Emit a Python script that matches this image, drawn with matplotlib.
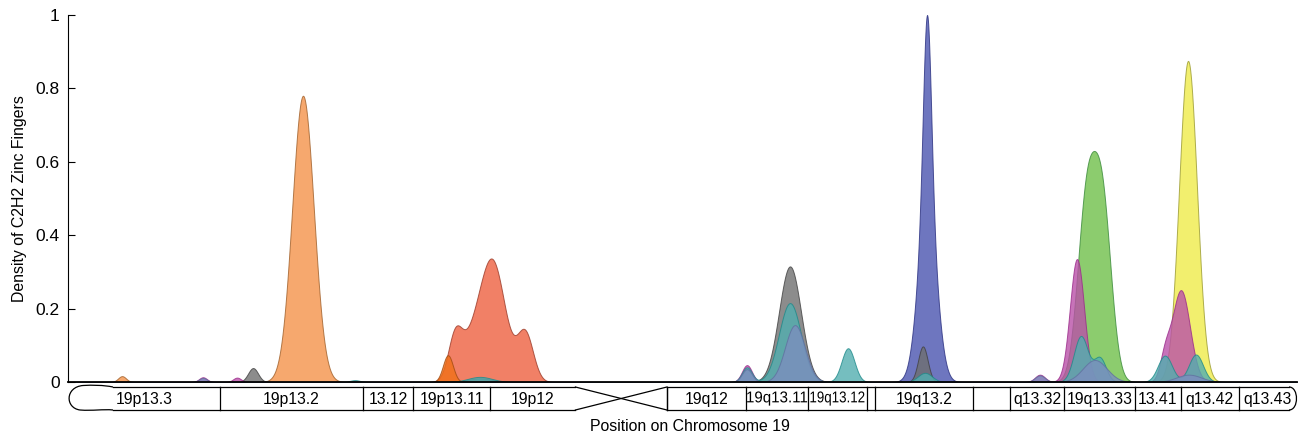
import matplotlib.pyplot as plt
import numpy as np
from matplotlib.path import Path
from matplotlib.patches import PathPatch
from matplotlib.textpath import TextPath
from matplotlib.font_manager import FontProperties
from matplotlib.transforms import Affine2D

plt.rcParams['font.family'] = ['Liberation Sans', 'DejaVu Sans']

# density peaks per zinc finger cluster family: (position Mb, height, width Mb)
blue_peaks = [(41.31, 0.50, 0.19), (41.31, 0.50, 0.43)]
salmon_peaks = [(20.39, 0.33, 0.625), (19.33, 0.07, 0.48), (18.61, 0.12, 0.34),
                (21.98, 0.13, 0.385)]
orange_peaks = [(2.60, 0.016, 0.19), (11.30, 0.78, 0.52)]
dark_orange_peaks = [(18.27, 0.073, 0.24)]
green_peaks = [(48.96, 0.47, 0.43), (49.73, 0.47, 0.43)]
yellow_peaks = [(53.86, 0.875, 0.43)]
gray_peaks = [(8.90, 0.038, 0.24), (19.81, 0.010, 0.55), (34.72, 0.315, 0.53),
              (41.11, 0.097, 0.23)]
pink_peaks = [(6.49, 0.013, 0.19), (8.13, 0.012, 0.19), (32.65, 0.046, 0.24),
              (46.74, 0.020, 0.24), (48.52, 0.335, 0.34), (53.52, 0.25, 0.43),
              (52.75, 0.06, 0.24)]
teal_peaks = [(13.80, 0.005, 0.24), (19.81, 0.014, 0.58), (32.65, 0.040, 0.24),
              (34.72, 0.215, 0.53), (37.51, 0.092, 0.31), (41.21, 0.025, 0.34),
              (48.71, 0.125, 0.34), (49.62, 0.065, 0.29), (52.75, 0.072, 0.34),
              (54.24, 0.075, 0.34)]
periwinkle_peaks = [(6.49, 0.011, 0.19), (32.65, 0.035, 0.24), (34.96, 0.155, 0.48),
                    (46.74, 0.018, 0.24), (49.38, 0.060, 0.58), (53.9, 0.02, 0.6)]

series = [
    (blue_peaks, '#4A54B0', '#2A3080'),
    (salmon_peaks, '#EE6040', '#9A3A28'),
    (orange_peaks, '#F4924A', '#A0602A'),
    (dark_orange_peaks, '#F07018', '#A04A10'),
    (green_peaks, '#6FC04A', '#3A8A3A'),
    (yellow_peaks, '#EFEC4A', '#9A9A30'),
    (gray_peaks, '#6F6F6F', '#404040'),
    (pink_peaks, '#BA50A8', '#9A2A8A'),
    (teal_peaks, '#52AEB0', '#1E8A8A'),
    (periwinkle_peaks, '#7C8EBE', '#6070A0'),
]

# chromosome 19 bands (label, start Mb, end Mb)
band_labels = ['19p13.3', '19p13.2', '13.12', '19p13.11', '19p12', '',
               '19q12', '19q13.11', '19q13.12', '', '19q13.2', '',
               'q13.32', '19q13.33', '13.41', 'q13.42', 'q13.43']
band_starts = [0.0, 7.3, 14.2, 16.6, 20.3, 24.4, 28.8, 32.6, 35.6, 38.4, 38.8,
               43.5, 45.3, 47.9, 51.3, 53.5, 56.3]
band_ends = band_starts[1:] + [59.1]

fig = plt.figure(figsize=(13.03, 4.36), dpi=100)
ax = fig.add_axes([68 / 1303, 1 - 382 / 436, 1229 / 1303, 367 / 436])

x = np.linspace(0, 59.1, 4000)
for peaks, face, edge in series:
    y = np.zeros_like(x)
    for c, h, s in peaks:
        y += h * np.exp(-0.5 * ((x - c) / s) ** 2)
    ax.fill_between(x, 0, y, facecolor=face, edgecolor=edge, linewidth=0.7, alpha=0.8)

ax.set_xlim(0, 59.1)
ax.set_ylim(0, 1)
ax.set_yticks([0, 0.2, 0.4, 0.6, 0.8, 1])
ax.set_yticklabels(['0', '0.2', '0.4', '0.6', '0.8', '1'])
ax.tick_params(axis='y', direction='in', length=5, labelsize=12.5, pad=6)
ax.set_xticks([])
ax.spines['top'].set_visible(False)
ax.spines['right'].set_visible(False)
ax.spines['bottom'].set_linewidth(1.3)
ax.set_ylabel('Density of C2H2 Zinc Fingers', fontsize=11.4, labelpad=6)

# squeezed labels for the narrow bands: target width in pixels
narrow = {'19q13.11': 60, '19q13.12': 54}
band_font = FontProperties(family='Liberation Sans')


def squeezed_label(xc, yc, lab, size, width_px):
    tp = TextPath((0, 0), lab, size=size, prop=band_font)
    ext = tp.get_extents()
    k = fig.dpi / 72
    sx = width_px / (ext.width * k)
    dx, dy = ax.transData.transform((xc, yc))
    tr = Affine2D().translate(-(ext.x0 + ext.width / 2), -(ext.y0 + ext.height / 2)) \
        .scale(sx * k, k).translate(dx, dy)
    fig.patches.append(PathPatch(tp, transform=tr, facecolor='k', edgecolor='none', figure=fig))


# ideogram below the axis
px = 59.1 / 1229  # Mb per pixel
top, bot = -5 / 367, -28 / 367
mid = (top + bot) / 2
for lab, s, e in zip(band_labels, band_starts, band_ends):
    if s == 24.4:
        ax.plot([s, e], [top, bot], color='k', lw=0.9, clip_on=False)
        ax.plot([s, e], [bot, top], color='k', lw=0.9, clip_on=False)
        continue
    x0 = s if s > 0 else 45 * px
    x1 = e if e < 59.1 else 59.1 - 8 * px
    ax.plot([x0, x1], [top, top], color='k', lw=0.9, clip_on=False)
    ax.plot([x0, x1], [bot, bot], color='k', lw=0.9, clip_on=False)
    if s > 0:
        ax.plot([s, s], [top, bot], color='k', lw=0.9, clip_on=False)
    if lab in narrow:
        squeezed_label((s + e) / 2, mid, lab, 11.3, narrow[lab])
    elif lab:
        ax.text((s + e) / 2, mid - 0.002, lab, ha='center', va='center', fontsize=11.3)
ax.plot([28.8, 28.8], [top, bot], color='k', lw=0.9, clip_on=False)

d = 1 / 367
left_cap = Path([(45 * px, top), (35 * px, top + 2 * d), (25 * px, top + 2 * d), (15 * px, top + 1.5 * d),
                 (-3 * px, top), (-3 * px, bot + 2 * d), (12 * px, bot),
                 (25 * px, bot - 1 * d), (35 * px, bot + 1 * d), (45 * px, bot)],
                [Path.MOVETO, Path.CURVE4, Path.CURVE4, Path.CURVE4,
                 Path.CURVE4, Path.CURVE4, Path.CURVE4,
                 Path.CURVE4, Path.CURVE4, Path.CURVE4])
right_cap = Path([(59.1 - 8 * px, top), (59.1 + 2 * px, top), (59.1 + 2 * px, bot), (59.1 - 8 * px, bot)],
                 [Path.MOVETO, Path.CURVE4, Path.CURVE4, Path.CURVE4])
for p in (left_cap, right_cap):
    ax.add_patch(PathPatch(p, facecolor='none', edgecolor='k', lw=0.9, clip_on=False))

fig.text(690 / 1303, 1 - 426 / 436, 'Position on Chromosome 19', ha='center', va='center',
         fontsize=11.4)

fig.savefig('out.png', dpi=100)
